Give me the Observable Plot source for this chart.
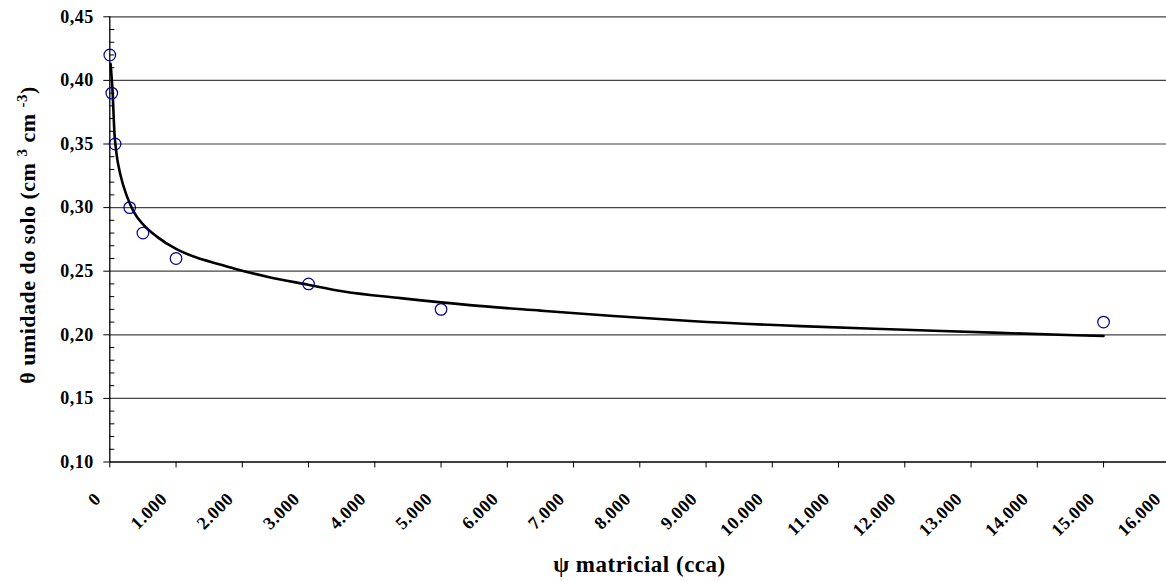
<!DOCTYPE html>
<html>
<head>
<meta charset="utf-8">
<script src="https://cdn.jsdelivr.net/npm/d3@7"></script>
<script src="https://cdn.jsdelivr.net/npm/@observablehq/plot@0.6"></script>
<style>
  html, body { margin: 0; padding: 0; background: #fff; overflow: hidden; }
  #chart svg { display: block; }
</style>
</head>
<body>
<div id="chart"></div>
<script>
// Observed points: matric potential (cca) and soil water content
const obsPsi = [0, 30, 80, 300, 500, 1000, 3000, 5000, 15000];
const obsTheta = [0.42, 0.39, 0.35, 0.30, 0.28, 0.26, 0.24, 0.22, 0.21];

// Fitted curve
const fitPsi = [12, 41, 71, 101, 162, 262, 362, 513, 715, 1000, 1319, 1650, 1870, 2376, 2979, 3532, 4388, 5395, 6502, 7600, 8766, 10426, 12000, 13444, 15000];
const fitTheta = [0.413, 0.392, 0.358, 0.3425, 0.3254, 0.3084, 0.2966, 0.2862, 0.277, 0.2675, 0.2605, 0.2555, 0.2522, 0.2457, 0.2395, 0.2340, 0.2288, 0.2235, 0.2190, 0.2148, 0.2109, 0.2068, 0.2040, 0.2015, 0.1990];

// Axis ticks
const xTicks = [0, 1000, 2000, 3000, 4000, 5000, 6000, 7000, 8000, 9000, 10000, 11000, 12000, 13000, 14000, 15000, 16000];
const yTicks = [0.10, 0.15, 0.20, 0.25, 0.30, 0.35, 0.40, 0.45];
const yMinorTicks = [0.11,0.12,0.13,0.14,0.16,0.17,0.18,0.19,0.21,0.22,0.23,0.24,0.26,0.27,0.28,0.29,0.31,0.32,0.33,0.34,0.36,0.37,0.38,0.39,0.41,0.42,0.43,0.44];
const yGrid = [0.15, 0.20, 0.25, 0.30, 0.35, 0.40, 0.45];

const xLabel = "ψ matricial (cca)";
const yLabelParts = ["θ umidade do solo (cm ", "3", " cm ", "-3", ")"];

const points = obsPsi.map((p, i) => ({psi: p, theta: obsTheta[i]}));
const fit = fitPsi.map((p, i) => ({psi: p, theta: fitTheta[i]}));

const fmtX = d => d === 0 ? "0" : d3.format(",")(d).replace(/,/g, ".");
const fmtY = d => d3.format(".2f")(d).replace(".", ",");

const font = "'Liberation Serif', 'Times New Roman', serif";

const chart = Plot.plot({
  width: 1166,
  height: 581,
  marginLeft: 109.3,
  marginRight: -3.3,
  marginTop: 16.3,
  marginBottom: 119.5,
  style: {fontFamily: font, fontSize: "18px", fontWeight: "bold", color: "#000", background: "#fff", letterSpacing: "0.5px"},
  x: {domain: [0, 16000]},
  y: {domain: [0.10, 0.45]},
  marks: [
    Plot.gridY(yGrid, {stroke: "#444", strokeOpacity: 1, strokeWidth: 1.2}),
    Plot.axisY({ticks: yTicks, tickSize: 6, tickPadding: 10, tickFormat: fmtY, fontWeight: "bold", fontSize: 18, label: null, stroke: "#000"}),
    Plot.axisY({ticks: yMinorTicks, tickSize: 5, dx: 5, tickFormat: () => "", label: null, stroke: "#000"}),
    Plot.axisX({ticks: xTicks, tickSize: 6, tickFormat: () => "", label: null, stroke: "#000"}),
    Plot.axisX({ticks: xTicks, tickSize: 0, tickPadding: 0, tickRotate: -45, dx: -12, dy: 34, tickFormat: fmtX, fontWeight: "bold", fontSize: 18, label: null}),
    Plot.ruleY([0.10], {stroke: "#000", strokeWidth: 1.3}),
    Plot.ruleX([0], {stroke: "#000", strokeWidth: 1.3}),
    Plot.line(fit, {x: "psi", y: "theta", stroke: "#000", strokeWidth: 2.6, curve: "monotone-x"}),
    Plot.dot(points, {x: "psi", y: "theta", r: 5.8, stroke: "#000090", strokeWidth: 1.2, fill: "none"})
  ]
});

document.getElementById("chart").appendChild(chart);

const svg = d3.select(chart);
// x-axis title
svg.append("text")
  .attr("x", 639.5)
  .attr("y", 567)
  .attr("text-anchor", "middle")
  .attr("dominant-baseline", "middle")
  .style("font-family", font)
  .style("font-weight", "bold")
  .style("font-size", "23px")
  .text(xLabel);

// y-axis title with superscripts
const yt = svg.append("text")
  .attr("transform", "translate(35,235) rotate(-90)")
  .attr("text-anchor", "middle")
  .style("font-family", font)
  .style("font-weight", "bold")
  .style("font-size", "22px")
  .attr("xml:space", "preserve");
yLabelParts.forEach((part, i) => {
  const ts = yt.append("tspan").text(part);
  if (i === 1 || i === 3) {
    ts.attr("baseline-shift", "super").style("font-size", "15px");
  }
});
</script>
</body>
</html>
